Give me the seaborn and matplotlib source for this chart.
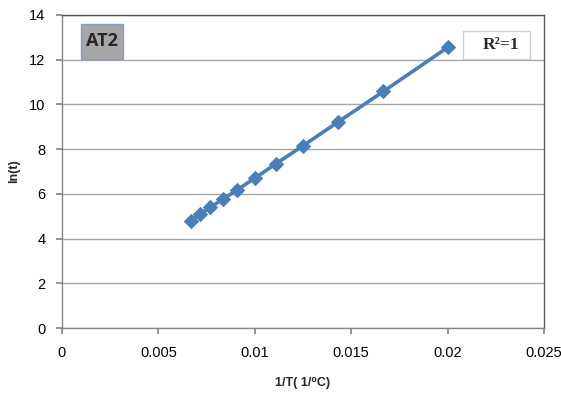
import matplotlib
matplotlib.use("Agg")
import matplotlib.pyplot as plt
from matplotlib.patches import Rectangle
import seaborn as sns
import pandas as pd

inv_T = [0.00667, 0.00714, 0.00769, 0.00833, 0.00909, 0.0100, 0.0111, 0.0125, 0.01429, 0.01667, 0.0200]
ln_t = [4.80, 5.08, 5.40, 5.75, 6.18, 6.70, 7.35, 8.15, 9.20, 10.58, 12.55]
x_ticks = [0, 0.005, 0.01, 0.015, 0.02, 0.025]
x_tick_labels = ["0", "0.005", "0.01", "0.015", "0.02", "0.025"]
y_ticks = [0, 2, 4, 6, 8, 10, 12, 14]

df = pd.DataFrame({"x": inv_T, "y": ln_t})

sns.set_theme(style="white")
plt.rcParams['font.family'] = ['Liberation Sans', 'DejaVu Sans']

fig = plt.figure(figsize=(5.61, 3.94), dpi=100)
ax = fig.add_axes([62/561, 66/394, 482/561, 313/394])

sns.lineplot(data=df, x="x", y="y", ax=ax, color="#4a7ebb", linewidth=2.6,
             marker="D", markersize=7, markeredgecolor="#4a7ebb", markerfacecolor="#4a7ebb")

ax.set_xlim(0, 0.025)
ax.set_ylim(0, 14)
ax.set_xticks(x_ticks)
ax.set_xticklabels(x_tick_labels, fontsize=10.5)
ax.set_yticks(y_ticks)
ax.set_yticklabels([str(v) for v in y_ticks], fontsize=10.5)
ax.yaxis.grid(True, color="#a6a6a6", linewidth=1)
ax.set_axisbelow(True)
for s in ax.spines.values():
    s.set_color("#868686")
    s.set_linewidth(1)
ax.spines["top"].set_color("#555555")
ax.spines["right"].set_color("#555555")
ax.tick_params(axis="both", which="both", length=4, color="#868686", direction="out",
               bottom=True, left=True, colors="black")
ax.tick_params(axis="x", pad=9)
ax.tick_params(axis="y", pad=8)

ax.set_xlabel("1/T( 1/⁰C)", fontsize=9, fontweight="bold", labelpad=12)
ax.set_ylabel("ln(t)", fontsize=9, fontweight="bold")
ax.yaxis.set_label_coords(-0.087, 0.5)

ax.add_patch(Rectangle((0.00098, 12.03), 0.00218, 1.57, facecolor="#a6a6a6",
                       edgecolor="#7f9fcf", linewidth=1, zorder=5))
ax.text(0.00207, 12.84, "AT2", fontsize=13, fontweight="bold", family=["Open Sans", "DejaVu Sans"],
        ha="center", va="center", zorder=6)
ax.add_patch(Rectangle((0.0208, 12.03), 0.00347, 1.25, facecolor="white",
                       edgecolor="#d0d0d0", linewidth=1, zorder=5))
ax.text(0.02277, 12.64, "R²=1", fontsize=12.5, fontweight="bold", family=["Liberation Serif", "DejaVu Serif"],
        ha="center", va="center", zorder=6)

fig.savefig("out.png", dpi=100, facecolor="white")
